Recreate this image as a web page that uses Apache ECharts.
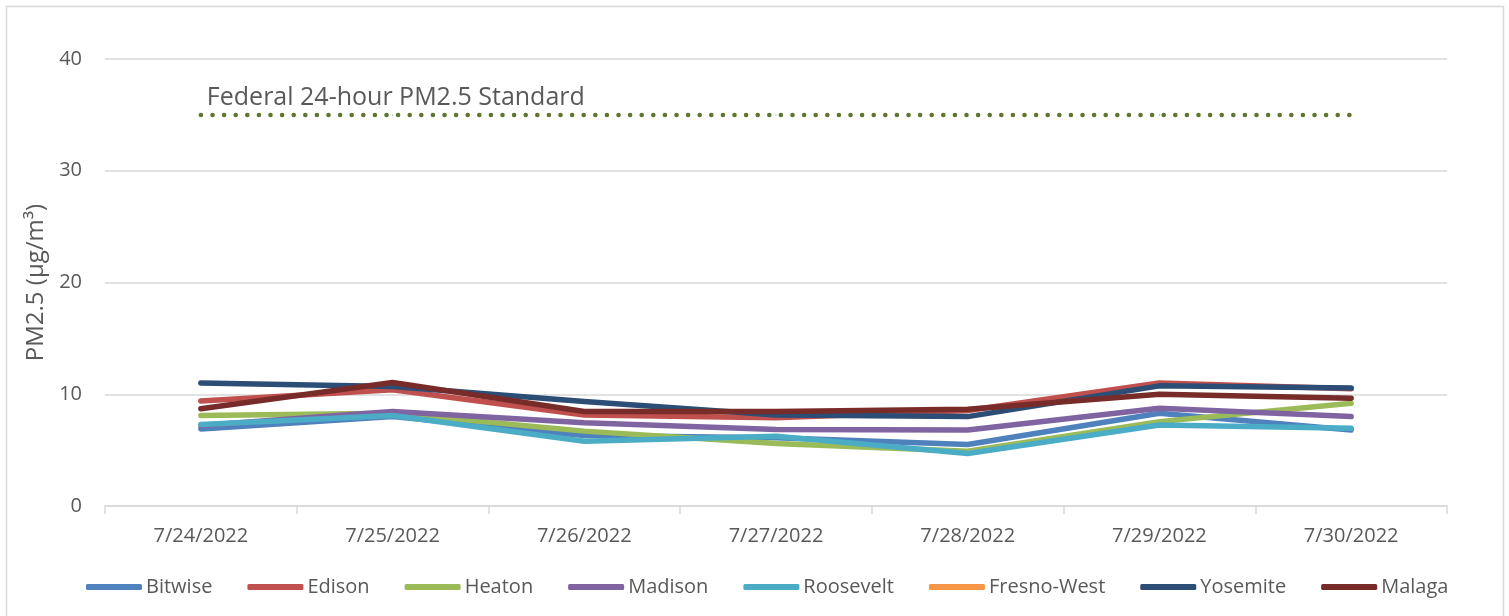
<!DOCTYPE html>
<html><head><meta charset="utf-8">
<script src="https://cdn.jsdelivr.net/npm/echarts@6/dist/echarts.min.js"></script>
<style>html,body{margin:0;padding:0;background:#fff}#c{width:1509px;height:616px}</style>
</head><body><div id="c"></div>
<script>
const categories = ['7/24/2022','7/25/2022','7/26/2022','7/27/2022','7/28/2022','7/29/2022','7/30/2022'];
const bitwise    = [6.9, 8.0, 6.3, 6.1, 5.5, 8.3, 6.8];
const edison     = [9.4, 10.4, 8.15, 7.9, 8.55, 11.0, 10.5];
const heaton     = [8.1, 8.3, 6.7, 5.6, 4.9, 7.55, 9.2];
const madison    = [7.2, 8.45, 7.45, 6.85, 6.8, 8.75, 8.0];
const roosevelt  = [7.3, 8.1, 5.8, 6.25, 4.7, 7.25, 6.95];
const fresnoWest = [null, null, null, null, null, null, null];
const yosemite   = [11.0, 10.7, 9.35, 8.15, 8.0, 10.75, 10.55];
const malaga     = [8.7, 11.05, 8.45, 8.45, 8.65, 10.0, 9.65];
const standard   = [35, 35, 35, 35, 35, 35, 35];
const standardLabel = 'Federal 24-hour PM2.5 Standard';
const yTicks = {min: 0, max: 40, interval: 10};

const names  = ['Bitwise','Edison','Heaton','Madison','Roosevelt','Fresno-West','Yosemite','Malaga'];
const values = [bitwise, edison, heaton, madison, roosevelt, fresnoWest, yosemite, malaga];
const colors = ['#4f81bd','#c0504d','#9bbb59','#8064a2','#4bacc6','#f79646','#2c4d75','#772c2a'];
const font = '"Open Sans", "Noto Sans", sans-serif';
const txt = '#595959';

const chart = echarts.init(document.getElementById('c'), null, {renderer:'canvas'});
const series = names.map((n,i)=>({
  name:n, type:'line', data:values[i], symbol:'none', smooth:false,
  lineStyle:{width:5.5, color:colors[i], cap:'round', join:'round'},
  itemStyle:{color:colors[i]}, z: 2+i
}));
series.push({
  name:'Standard', type:'line', symbol:'circle', symbolSize:1, showSymbol:true,
  data: standard,
  label:{show:true, position:'top', align:'left', offset:[6,1], fontSize:25, color:txt, fontFamily:font,
         formatter: p => p.dataIndex === 0 ? standardLabel : ''},
  lineStyle:{width:4.5, color:'#5e7630', type:[0.1,11.5], cap:'round'},
  itemStyle:{color:'#5e7630'}, z:1
});
chart.setOption({
  animation:false,
  backgroundColor:'#fff',
  graphic:[{type:'rect', shape:{x:6.5,y:6.5,width:1497,height:620}, style:{fill:'none', stroke:'#d9d9d9', lineWidth:1.5}, silent:true}],
  grid:{left:105, right:62, top:59, bottom:110, containLabel:false},
  legend:{
    data:names, bottom:14, left:81, icon:'roundRect',
    itemWidth:56, itemHeight:6, itemGap:35,
    textStyle:{fontSize:20, color:txt, fontFamily:font, padding:[0,0,0,-1]}
  },
  xAxis:{
    type:'category', data:categories, boundaryGap:true,
    axisLine:{lineStyle:{color:'#d9d9d9', width:1.5}},
    axisTick:{show:true, length:8, lineStyle:{color:'#d9d9d9', width:1.5}},
    axisLabel:{fontSize:20, color:txt, margin:20, fontFamily:font}
  },
  yAxis:{
    type:'value', min:yTicks.min, max:yTicks.max, interval:yTicks.interval,
    name:'PM2.5 (μg/m³)', nameLocation:'middle', nameGap:44, nameRotate:90,
    nameTextStyle:{fontSize:24, color:txt, fontFamily:font},
    axisLine:{show:false}, axisTick:{show:false},
    axisLabel:{fontSize:20, color:txt, margin:23, fontFamily:font},
    splitLine:{lineStyle:{color:'#d9d9d9', width:1.5}}
  },
  series
});
</script></body></html>
